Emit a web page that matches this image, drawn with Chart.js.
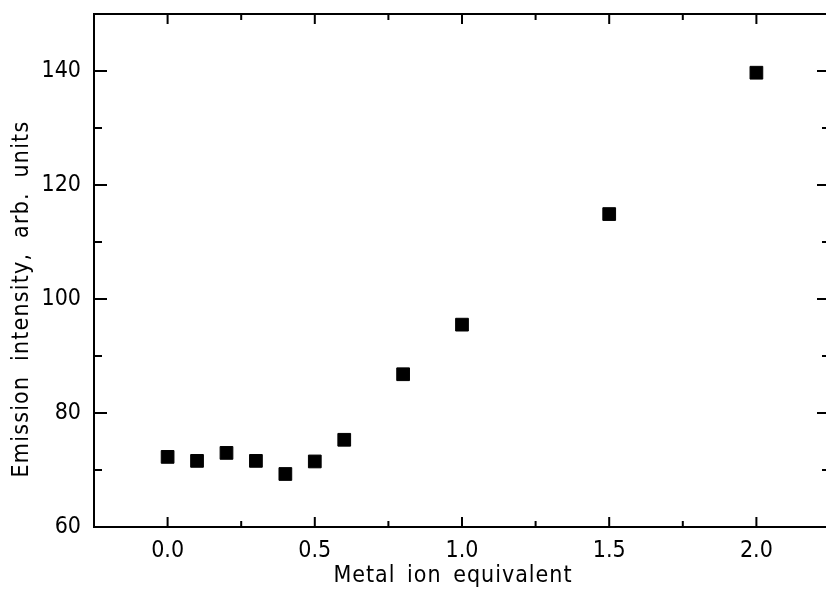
<!DOCTYPE html>
<html>
<head>
<meta charset="utf-8">
<script src="https://cdn.jsdelivr.net/npm/chart.js@4/dist/chart.umd.min.js"></script>
<style>
  html, body { margin: 0; padding: 0; background: #fff; overflow: hidden; }
  #wrap { width: 826px; height: 594px; overflow: hidden; }
  canvas { display: block; }
</style>
</head>
<body>
<div id="wrap"><canvas id="c" width="840" height="594"></canvas></div>
<script>
// data
const metalEq  = [0.0, 0.1, 0.2, 0.3, 0.4, 0.5, 0.6, 0.8, 1.0, 1.5, 2.0];
const emission = [72.3, 71.6, 73.0, 71.6, 69.3, 71.5, 75.3, 86.8, 95.5, 114.9, 139.7];

const xTicks = [0.0, 0.5, 1.0, 1.5, 2.0];
const xMinor = [-0.25, 0.25, 0.75, 1.25, 1.75, 2.25];
const yTicks = [60, 80, 100, 120, 140];
const yMinor = [70, 90, 110, 130, 150];

const xTitle = 'Metal ion equivalent';
const yTitle = 'Emission intensity, arb. units';

const FONT = '"DejaVu Sans Condensed", "Liberation Sans Narrow", "DejaVu Sans", sans-serif';
const FSIZE = 23;

// left/top/bottom frame with inward ticks (right edge falls outside the crop), plus axis titles
const frame = {
  id: 'frame',
  afterDatasetsDraw(chart) {
    const { ctx, chartArea: a, scales: { x, y } } = chart;
    ctx.save();
    ctx.strokeStyle = '#000';
    ctx.lineWidth = 2;
    ctx.beginPath();
    ctx.moveTo(chart.width, a.top);
    ctx.lineTo(a.left, a.top);
    ctx.lineTo(a.left, a.bottom);
    ctx.lineTo(chart.width, a.bottom);
    ctx.stroke();

    ctx.beginPath();
    const tickX = (v, len) => {
      const px = x.getPixelForValue(v);
      ctx.moveTo(px, a.bottom); ctx.lineTo(px, a.bottom - len);
      ctx.moveTo(px, a.top);    ctx.lineTo(px, a.top + len);
    };
    const tickY = (v, len) => {
      const py = y.getPixelForValue(v);
      ctx.moveTo(a.left, py);  ctx.lineTo(a.left + len, py);
      ctx.moveTo(a.right, py); ctx.lineTo(a.right - len, py);
    };
    xTicks.forEach(v => tickX(v, 10));
    xMinor.forEach(v => tickX(v, 6));
    yTicks.forEach(v => tickY(v, 13));
    yMinor.forEach(v => tickY(v, 8));
    ctx.stroke();

    ctx.fillStyle = '#000';
    ctx.font = `${FSIZE}px ${FONT}`;
    ctx.textAlign = 'center';
    ctx.textBaseline = 'middle';
    ctx.letterSpacing = '1px';
    ctx.wordSpacing = '4px';
    ctx.fillText(xTitle, a.left + 359, 576);
    ctx.letterSpacing = '1.2px';
    ctx.wordSpacing = '7px';
    ctx.translate(22, 299);
    ctx.rotate(-Math.PI / 2);
    ctx.fillText(yTitle, 0, 0);
    ctx.restore();
  }
};

new Chart(document.getElementById('c'), {
  type: 'scatter',
  data: {
    datasets: [{
      data: metalEq.map((v, i) => ({ x: v, y: emission[i] })),
      pointStyle: 'rect',
      pointRadius: 9,
      pointHoverRadius: 9,
      backgroundColor: '#000',
      borderColor: '#000',
      borderWidth: 1,
      showLine: false
    }]
  },
  options: {
    responsive: false,
    animation: false,
    events: [],
    layout: { padding: { top: 14, right: 6, left: 0, bottom: 0 } },
    plugins: { legend: { display: false }, tooltip: { enabled: false } },
    scales: {
      x: {
        type: 'linear', min: -0.25, max: 2.25,
        afterBuildTicks: s => { s.ticks = xTicks.map(v => ({ value: v })); },
        afterFit: s => { s.height = 67; s.paddingLeft = 0; s.paddingRight = 0; },
        grid: { display: false, drawTicks: false },
        border: { display: false },
        ticks: {
          color: '#000', padding: 10, maxRotation: 0, autoSkip: false,
          font: { family: FONT, size: FSIZE },
          callback: v => v.toFixed(1)
        }
      },
      y: {
        type: 'linear', min: 60, max: 150,
        afterBuildTicks: s => { s.ticks = yTicks.map(v => ({ value: v })); },
        afterFit: s => { s.width = 94; s.paddingTop = 0; s.paddingBottom = 0; },
        grid: { display: false, drawTicks: false },
        border: { display: false },
        ticks: {
          color: '#000', padding: 13, autoSkip: false,
          font: { family: FONT, size: FSIZE },
          callback: v => String(v)
        }
      }
    }
  },
  plugins: [frame]
});
</script>
</body>
</html>
